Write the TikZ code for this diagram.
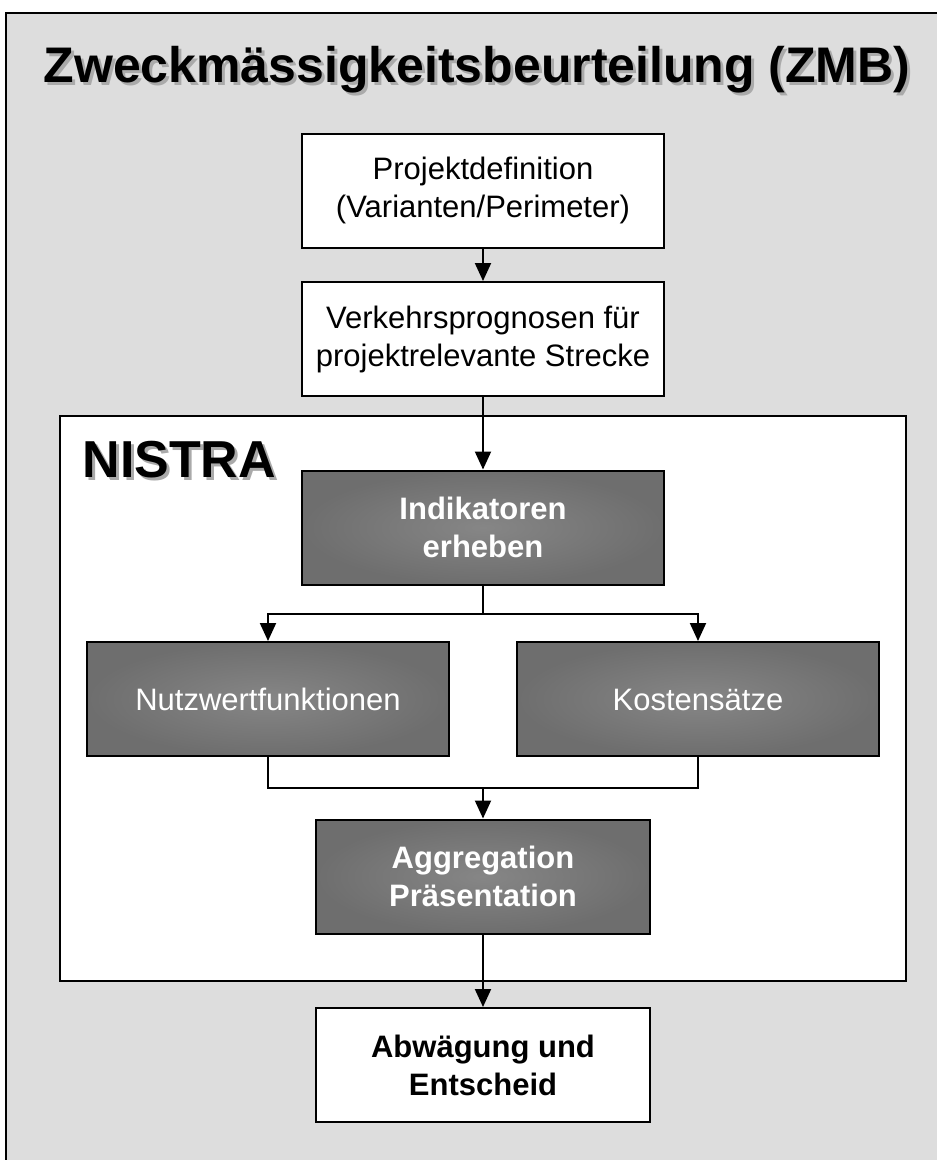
\documentclass[tikz,border=0pt]{standalone}
\usepackage{fontspec}
\setmainfont{Liberation Sans}
\usetikzlibrary{arrows.meta}
\definecolor{bggray}{RGB}{221,221,221}
\definecolor{boxdark}{RGB}{110,110,110}
\definecolor{boxlight}{RGB}{134,134,134}
\definecolor{shadowgray}{RGB}{170,170,170}
\begin{document}
\begin{tikzpicture}[x=1pt,y=-1pt,
  box/.style={draw=black,line width=2pt,minimum width=362pt,minimum height=114pt,inner sep=0pt,align=center,font=\fontsize{31}{38}\selectfont},
  whitebox/.style={box,fill=white},
  darkbox/.style={box,text=white,inner color=boxlight,outer color=boxdark},
  oneline/.style={text height=30pt,text depth=8pt},
  conn/.style={line width=2pt},
  arr/.style={conn,-{Triangle[length=18pt,width=16pt]}},
  titlefont/.style={font=\bfseries\fontsize{50}{60}\selectfont},
  nistrafont/.style={font=\bfseries\fontsize{52}{62}\selectfont},
]
\useasboundingbox (0,0) rectangle (937,1160);
\begin{scope}
  \clip (0,0) rectangle (937,1160);
  \draw[line width=2pt,fill=bggray] (6,13) rectangle (960,1200);
\end{scope}

% title with shadow
\node[titlefont,anchor=base,text=shadowgray] (titleshadow) at (480,85) {Zweckmässigkeitsbeurteilung (ZMB)};
\node[titlefont,anchor=base] (title) at (477,82) {Zweckmässigkeitsbeurteilung (ZMB)};

% NISTRA frame
\node[draw=black,line width=2pt,fill=white,minimum width=846pt,minimum height=565pt,inner sep=0pt] (nistra) at (483,698.5) {};
\node[nistrafont,anchor=base west,text=shadowgray] (nistrashadow) at (82,480) {NISTRA};
\node[nistrafont,anchor=base west] (nistralabel) at (79,477) {NISTRA};

% boxes
\node[whitebox] (pd) at (483,190.5) {Projektdefinition\\(Varianten/Perimeter)};
\node[whitebox] (vp) at (483,339) {Verkehrsprognosen für\\projektrelevante Strecke};
\node[darkbox,font=\bfseries\fontsize{31}{38}\selectfont] (ind) at (483,527.5) {Indikatoren\\erheben};
\node[darkbox,oneline] (nw) at (268,699) {Nutzwertfunktionen};
\node[darkbox,oneline] (ks) at (698,699) {Kostensätze};
\node[darkbox,minimum width=334pt,font=\bfseries\fontsize{31}{38}\selectfont] (agg) at (483,876.5) {Aggregation\\Präsentation};
\node[whitebox,minimum width=334pt,font=\bfseries\fontsize{31}{38}\selectfont] (abw) at (483,1065) {Abwägung und\\Entscheid};

% connectors
\draw[arr] (pd.south) -- (vp.north);
\draw[arr] (vp.south) -- (ind.north);
\draw[conn] (ind.south) -- ++(0,28) coordinate (split);
\draw[arr] (split) -| (nw.north);
\draw[arr] (split) -| (ks.north);
\coordinate (merge) at (483,788);
\draw[conn] (nw.south) |- (merge) -| (ks.south);
\draw[arr] (merge) -- (agg.north);
\draw[arr] (agg.south) -- (abw.north);
\end{tikzpicture}
\end{document}
